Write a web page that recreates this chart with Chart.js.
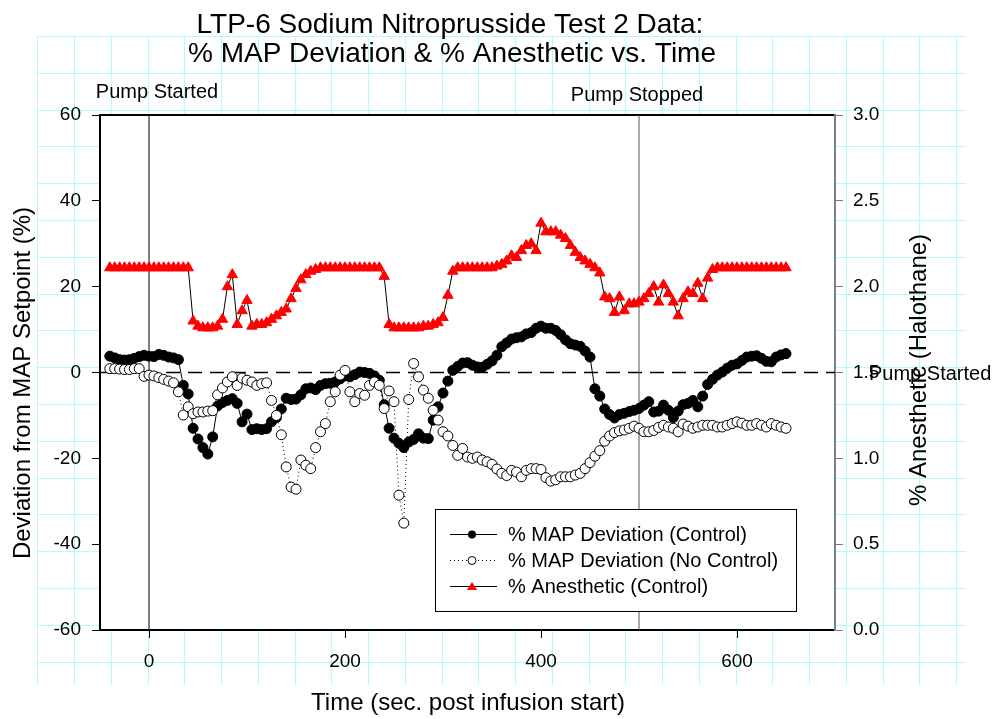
<!DOCTYPE html>
<html><head><meta charset="utf-8">
<script src="https://cdn.jsdelivr.net/npm/chart.js@4.4.0/dist/chart.umd.min.js"></script>
<style>html,body{margin:0;padding:0;background:#fff;}canvas{display:block;}</style>
</head><body>
<canvas id="c" width="1000" height="719"></canvas>
<script>
// ---- data ----
const times = [
 -40,-35,-30,-25,-20,-15,-10,-5,0,5,
 10,15,20,25,30,35,40,45,50,55,
 60,65,70,75,80,85,90,95,100,105,
 110,115,120,125,130,135,140,145,150,155,
 160,165,170,175,180,185,190,195,200,205,
 210,215,220,225,230,235,240,245,250,255,
 260,265,270,275,280,285,290,295,300,305,
 310,315,320,325,330,335,340,345,350,355,
 360,365,370,375,380,385,390,395,400,405,
 410,415,420,425,430,435,440,445,450,455,
 460,465,470,475,480,485,490,495,500,505,
 510,515,520,525,530,535,540,545,550,555,
 560,565,570,575,580,585,590,595,600,605,
 610,615,620,625,630,635,640,645,650
];
const mapControl = [
 3.8,3.4,3.0,2.9,3.0,3.3,3.7,4.0,3.8,3.7,
 4.2,4.0,3.6,3.4,3.0,-3.0,-5.0,-13.0,-15.5,-17.5,
 -19.0,-15.0,-7.8,-7.0,-6.5,-6.1,-7.2,-11.5,-9.7,-13.3,
 -13.1,-13.3,-13.1,-11.5,-10.5,-8.5,-6.0,-6.3,-6.2,-5.2,
 -3.8,-3.6,-4.0,-3.0,-2.6,-2.5,-2.2,-1.5,-0.8,-1.0,
 -0.5,0.1,0.0,-0.2,-0.8,-1.8,-7.5,-13.0,-15.3,-16.5,
 -17.5,-16.2,-15.6,-14.3,-15.3,-15.4,-11.1,-8.0,-4.8,-2.0,
 0.5,1.4,2.2,2.3,1.7,1.3,1.2,1.9,2.7,4.0,
 6.0,6.9,7.8,8.1,8.3,9.0,9.3,10.3,10.8,10.3,
 10.3,9.8,8.8,7.6,6.7,6.4,6.1,5.0,3.6,-3.8,
 -5.5,-8.5,-9.8,-10.6,-9.8,-9.5,-9.1,-8.8,-8.4,-7.6,
 -6.8,-9.2,-9.0,-7.6,-8.8,-10.5,-9.0,-7.5,-7.2,-6.5,
 -8.0,-5.5,-2.8,-1.6,-0.6,0.1,1.0,1.7,2.0,2.8,
 3.6,3.8,3.9,3.3,2.6,2.5,3.6,4.1,4.4
];
const mapNoControl = [
 0.9,0.9,0.8,0.7,0.7,0.9,0.9,-0.9,-0.6,-0.8,
 -1.2,-1.6,-2.0,-2.4,-4.5,-9.9,-8.0,-9.6,-9.2,-9.2,
 -9.0,-8.9,-5.2,-3.6,-2.2,-1.0,-3.0,-1.3,-1.8,-2.2,
 -3.0,-2.6,-2.4,-6.5,-10.0,-14.5,-22.0,-26.7,-27.2,-20.4,
 -21.6,-22.4,-17.5,-13.8,-11.9,-6.8,-4.5,-0.6,0.5,-4.5,
 -6.8,-4.9,-5.3,-3.0,-2.2,-3.0,-8.4,-4.3,-6.8,-28.6,
 -35.1,-6.3,2.1,-1.0,-4.1,-6.0,-8.8,-11.1,-13.8,-14.8,
 -17.0,-19.3,-17.7,-19.7,-20.0,-19.7,-20.4,-20.8,-21.4,-22.5,
 -23.5,-24.0,-22.8,-23.2,-24.3,-22.8,-22.4,-22.4,-22.6,-24.5,
 -25.3,-25.0,-24.3,-24.3,-24.3,-23.9,-23.5,-22.4,-21.0,-19.5,
 -18.2,-16.0,-14.8,-14.0,-13.6,-13.4,-13.0,-12.5,-13.0,-13.8,
 -13.8,-13.5,-12.8,-12.3,-12.7,-13.0,-13.8,-12.0,-12.5,-13.0,
 -12.7,-12.3,-12.3,-12.3,-12.7,-12.7,-12.3,-11.9,-11.5,-11.8,
 -12.3,-12.3,-11.9,-12.3,-12.7,-11.9,-12.3,-12.7,-13.0
];
const anesthetic = [
 2.11,2.11,2.11,2.11,2.11,2.11,2.11,2.11,2.11,2.11,
 2.11,2.11,2.11,2.11,2.11,2.11,2.11,1.80,1.77,1.76,
 1.76,1.76,1.77,1.81,2.00,2.07,1.78,1.86,1.92,1.77,
 1.78,1.78,1.79,1.81,1.83,1.85,1.87,1.93,1.99,2.04,
 2.07,2.09,2.10,2.11,2.11,2.11,2.11,2.11,2.11,2.11,
 2.11,2.11,2.11,2.11,2.11,2.11,2.06,1.78,1.76,1.76,
 1.76,1.76,1.76,1.76,1.77,1.77,1.78,1.79,1.82,1.95,
 2.09,2.11,2.11,2.11,2.11,2.11,2.11,2.11,2.11,2.12,
 2.13,2.15,2.18,2.17,2.21,2.24,2.25,2.21,2.37,2.32,
 2.32,2.32,2.30,2.28,2.24,2.20,2.17,2.15,2.13,2.11,
 2.08,1.94,1.93,1.85,1.94,1.86,1.90,1.90,1.91,1.93,
 1.96,2.00,1.91,2.01,1.96,1.91,1.83,1.93,1.97,1.96,
 2.02,1.93,2.05,2.10,2.11,2.11,2.11,2.11,2.11,2.11,
 2.11,2.11,2.11,2.11,2.11,2.11,2.11,2.11,2.11
];
const xTicks = [0, 200, 400, 600];
const leftTicks = [-60, -40, -20, 0, 20, 40, 60];
const rightTicks = [0.0, 0.5, 1.0, 1.5, 2.0, 2.5, 3.0];
const pumpStart = 0;
const pumpStop = 500;
const seriesNames = ['% MAP Deviation (Control)', '% MAP Deviation (No Control)', '% Anesthetic (Control)'];

const FAM = '"Liberation Sans", Arial, sans-serif';
const pts = (vals) => times.map((t, i) => ({x: t, y: vals[i]}));

const pagePlugin = {
  id: 'page',
  beforeDraw(chart) {
    const {ctx, chartArea: a} = chart;
    ctx.save();
    ctx.fillStyle = '#fff';
    ctx.fillRect(0, 0, chart.width, chart.height);
    ctx.strokeStyle = 'rgb(180,252,252)';
    ctx.lineWidth = 1;
    ctx.beginPath();
    for (let k = 0; k < 26; k++) {
      const x = Math.round(37.3 + 36.75 * k) + 0.5;
      ctx.moveTo(x, 36); ctx.lineTo(x, 685);
    }
    for (let k = 0; k < 18; k++) {
      const y = Math.round(36 + 36.8 * k) + 0.5;
      ctx.moveTo(37, y); ctx.lineTo(966, y);
    }
    ctx.stroke();
    ctx.fillStyle = '#fff';
    ctx.fillRect(a.left, a.top, a.right - a.left, a.bottom - a.top);
    ctx.restore();
  },
  afterDraw(chart) {
    const {ctx, chartArea: a, scales} = chart;
    ctx.save();
    ctx.fillStyle = '#000';
    ctx.textBaseline = 'alphabetic';
    // title
    ctx.font = '28px ' + FAM;
    ctx.textAlign = 'center';
    ctx.fillText('LTP-6 Sodium Nitroprusside Test 2 Data:', 450, 33);
    ctx.fillText('% MAP Deviation & % Anesthetic vs. Time', 452, 62);
    // axis titles
    ctx.font = '24px ' + FAM;
    ctx.fillText('Time (sec. post infusion start)', 468, 710);
    ctx.save();
    ctx.translate(30, 383); ctx.rotate(-Math.PI / 2);
    ctx.fillText('Deviation from MAP Setpoint (%)', 0, 0);
    ctx.restore();
    ctx.save();
    ctx.translate(926, 370); ctx.rotate(-Math.PI / 2);
    ctx.fillText('% Anesthetic (Halothane)', 0, 0);
    ctx.restore();
    // annotations
    ctx.font = '20px ' + FAM;
    ctx.textAlign = 'center';
    const xs = scales.x;
    ctx.fillText('Pump Started', xs.getPixelForValue(pumpStart) + 8, 98);
    ctx.fillText('Pump Stopped', xs.getPixelForValue(pumpStop) - 2, 101);
    ctx.textAlign = 'left';
    ctx.fillText('Pump Started', a.right + 34, scales.y.getPixelForValue(0) + 7);
    // legend
    const bx = 435.5, by = 509.5, bw = 361, bh = 102;
    ctx.fillStyle = '#fff';
    ctx.fillRect(bx, by, bw, bh);
    ctx.strokeStyle = '#000'; ctx.lineWidth = 1;
    ctx.strokeRect(bx, by, bw, bh);
    const rows = [534, 560, 586];
    rows.forEach((ry, i) => {
      ctx.beginPath();
      ctx.setLineDash(i === 1 ? [1, 3] : []);
      ctx.moveTo(450, ry + 0.5); ctx.lineTo(497, ry + 0.5);
      ctx.strokeStyle = '#000'; ctx.stroke();
      ctx.setLineDash([]);
      if (i === 0) {
        ctx.beginPath(); ctx.arc(472, ry + 0.5, 4, 0, Math.PI * 2);
        ctx.fillStyle = '#000'; ctx.fill();
      } else if (i === 1) {
        ctx.beginPath(); ctx.arc(472, ry + 0.5, 4, 0, Math.PI * 2);
        ctx.fillStyle = '#fff'; ctx.fill(); ctx.strokeStyle = '#000'; ctx.stroke();
      } else {
        ctx.beginPath();
        ctx.moveTo(472, ry - 4); ctx.lineTo(477, ry + 4); ctx.lineTo(467, ry + 4); ctx.closePath();
        ctx.fillStyle = 'red'; ctx.fill();
      }
      ctx.fillStyle = '#000';
      ctx.font = '20px ' + FAM;
      ctx.textAlign = 'left'; ctx.textBaseline = 'middle';
      ctx.fillText(seriesNames[i], 508, ry + 1);
    });
    ctx.restore();
  }
};

new Chart(document.getElementById('c'), {
  type: 'line',
  data: {
    datasets: [
      {label: seriesNames[1], data: pts(mapNoControl), yAxisID: 'y', xAxisID: 'x',
       borderColor: '#000', borderWidth: 1, borderDash: [1, 3], pointRadius: 5,
       pointBackgroundColor: '#fff', pointBorderColor: '#000', pointBorderWidth: 1, order: 1},
      {label: seriesNames[0], data: pts(mapControl), yAxisID: 'y', xAxisID: 'x',
       borderColor: '#000', borderWidth: 1, pointRadius: 5,
       pointBackgroundColor: '#000', pointBorderColor: '#000', pointBorderWidth: 1, order: 2},
      {label: seriesNames[2], data: pts(anesthetic), yAxisID: 'y1', xAxisID: 'x',
       borderColor: '#000', borderWidth: 1, pointStyle: 'triangle', pointRadius: 6,
       pointBackgroundColor: 'red', pointBorderColor: 'red', pointBorderWidth: 1, order: 0},
      {label: 'start', data: [{x: pumpStart, y: -60}, {x: pumpStart, y: 60}], yAxisID: 'y', xAxisID: 'x',
       borderColor: '#000', borderWidth: 1, pointRadius: 0, order: 5},
      {label: 'stop', data: [{x: pumpStop, y: -60}, {x: pumpStop, y: 60}], yAxisID: 'y', xAxisID: 'x',
       borderColor: '#555', borderWidth: 1, pointRadius: 0, order: 5},
      {label: 'zero', data: [{x: -50, y: 0}, {x: 700, y: 0}], yAxisID: 'y', xAxisID: 'x',
       borderColor: '#000', borderWidth: 1.5, borderDash: [14, 8], pointRadius: 0, order: 5}
    ]
  },
  options: {
    responsive: false, animation: false, devicePixelRatio: 1,
    layout: {padding: {top: 115, left: 0, right: 0, bottom: 0}},
    plugins: {legend: {display: false}, tooltip: {enabled: false}, title: {display: false}},
    elements: {line: {tension: 0}},
    scales: {
      x: {type: 'linear', position: 'bottom', min: -50, max: 700,
        afterBuildTicks: s => { s.ticks = xTicks.map(v => ({value: v})); },
        afterFit: s => { s.height = 89; },
        grid: {drawOnChartArea: false, drawTicks: true, tickLength: 8, color: '#000', lineWidth: 1},
        border: {display: true, color: '#000', width: 2},
        ticks: {font: {family: FAM, size: 19}, color: '#000', padding: 12, maxRotation: 0, autoSkip: false}
      },
      xTop: {type: 'linear', position: 'top', min: -50, max: 700,
        afterFit: s => { s.height = 0; },
        grid: {display: false, drawTicks: false},
        border: {display: true, color: '#000', width: 2},
        ticks: {display: false}
      },
      y: {type: 'linear', position: 'left', min: -60, max: 60,
        afterBuildTicks: s => { s.ticks = leftTicks.map(v => ({value: v})); },
        afterFit: s => { s.width = 100; },
        grid: {drawOnChartArea: false, tickLength: 8, color: '#000', lineWidth: 1},
        border: {display: true, color: '#000', width: 2},
        ticks: {font: {family: FAM, size: 19}, color: '#000', padding: 11}
      },
      y1: {type: 'linear', position: 'right', min: 0, max: 3,
        afterBuildTicks: s => { s.ticks = rightTicks.map(v => ({value: v})); },
        afterFit: s => { s.width = 165; },
        grid: {drawOnChartArea: false, tickLength: 8, color: '#777', lineWidth: 1},
        border: {display: true, color: '#808080', width: 2},
        ticks: {font: {family: FAM, size: 19}, color: '#000', padding: 10, callback: v => Number(v).toFixed(1)}
      }
    }
  },
  plugins: [pagePlugin]
});
</script>
</body></html>
